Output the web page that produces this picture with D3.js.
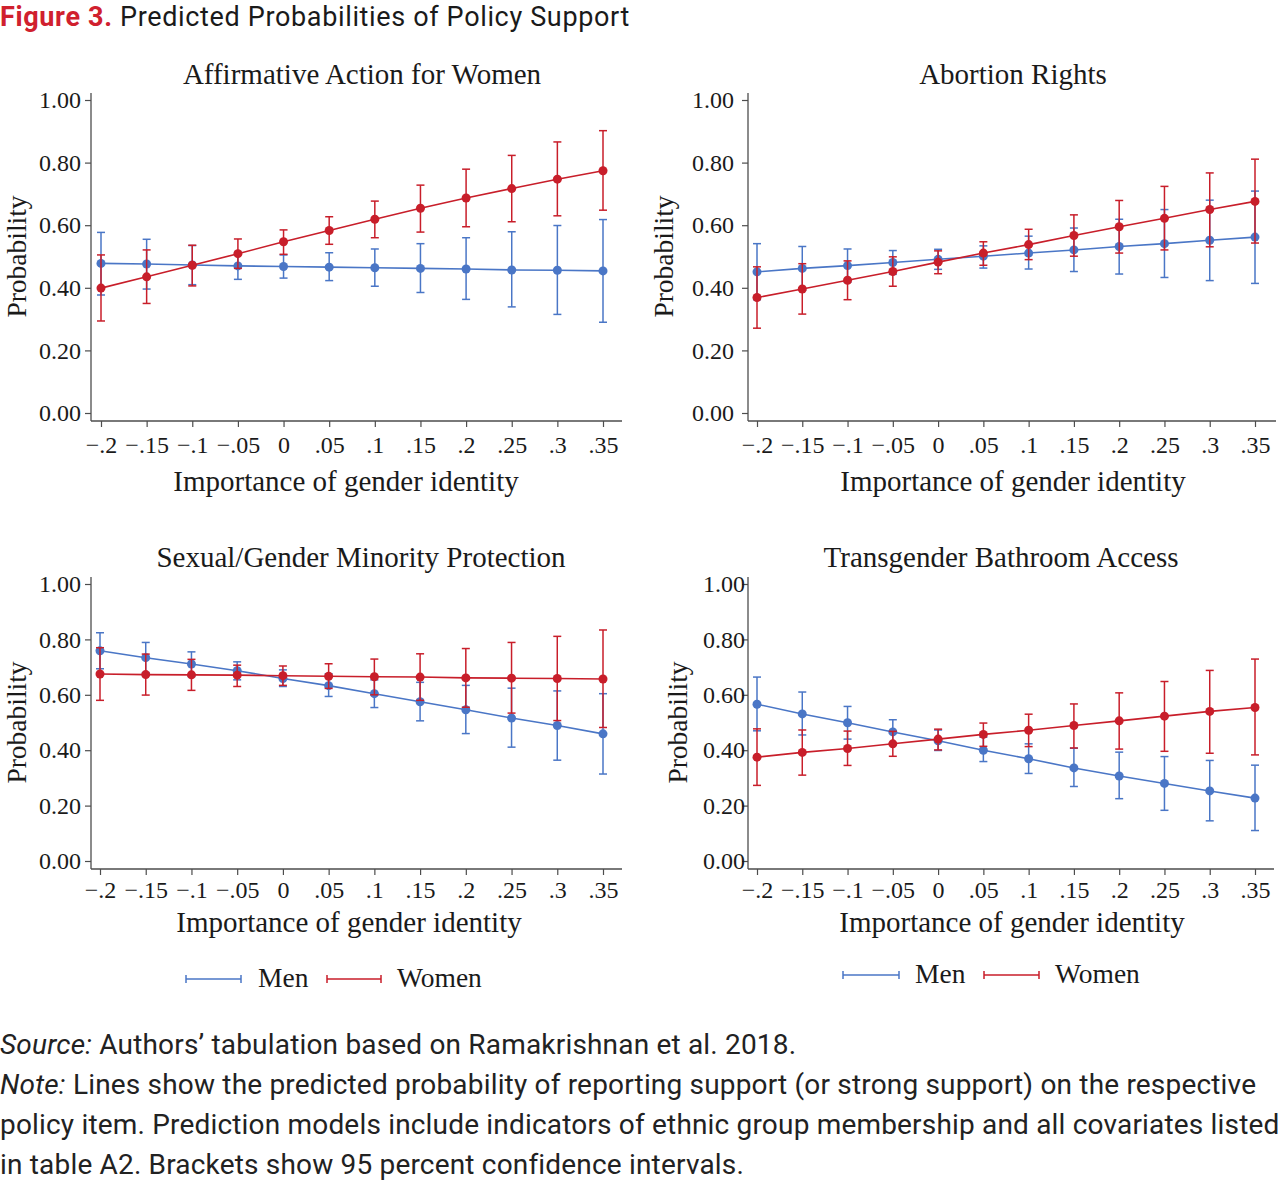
<!DOCTYPE html>
<html><head><meta charset="utf-8">
<script src="https://cdn.jsdelivr.net/npm/d3@7"></script>
<style>body{margin:0;background:#fff} svg{display:block}</style>
</head>
<body>
<svg id="chart" width="1280" height="1180"></svg>
<script>
// ---------- data ----------
const xValues = [-0.2, -0.15, -0.1, -0.05, 0, 0.05, 0.1, 0.15, 0.2, 0.25, 0.3, 0.35];
const xTickLabels = ["\u2212.2", "\u2212.15", "\u2212.1", "\u2212.05", "0", ".05", ".1", ".15", ".2", ".25", ".3", ".35"];
const yTickValues = [0, 0.2, 0.4, 0.6, 0.8, 1.0];
const yTickLabels = ["0.00", "0.20", "0.40", "0.60", "0.80", "1.00"];
const panelTitles = ["Affirmative Action for Women", "Abortion Rights", "Sexual/Gender Minority Protection", "Transgender Bathroom Access"];
const seriesNames = ["Men", "Women"];

// Affirmative Action for Women
const aaMen      = [0.478, 0.476, 0.473, 0.470, 0.468, 0.466, 0.464, 0.462, 0.460, 0.457, 0.456, 0.454];
const aaMenLo    = [0.377, 0.396, 0.410, 0.427, 0.431, 0.423, 0.405, 0.385, 0.363, 0.339, 0.315, 0.290];
const aaMenHi    = [0.577, 0.555, 0.535, 0.513, 0.505, 0.512, 0.524, 0.541, 0.560, 0.579, 0.599, 0.618];
const aaWomen    = [0.399, 0.435, 0.472, 0.509, 0.547, 0.583, 0.619, 0.654, 0.687, 0.717, 0.747, 0.774];
const aaWomenLo  = [0.294, 0.350, 0.406, 0.462, 0.507, 0.539, 0.560, 0.578, 0.595, 0.611, 0.630, 0.648];
const aaWomenHi  = [0.505, 0.521, 0.536, 0.556, 0.585, 0.627, 0.677, 0.728, 0.779, 0.823, 0.866, 0.902];

// Abortion Rights
const arMen      = [0.451, 0.462, 0.471, 0.481, 0.491, 0.501, 0.511, 0.521, 0.532, 0.541, 0.552, 0.562];
const arMenLo    = [0.362, 0.392, 0.418, 0.443, 0.459, 0.463, 0.460, 0.452, 0.444, 0.433, 0.423, 0.414];
const arMenHi    = [0.541, 0.532, 0.524, 0.519, 0.523, 0.534, 0.565, 0.591, 0.619, 0.650, 0.680, 0.709];
const arWomen    = [0.369, 0.396, 0.424, 0.452, 0.482, 0.511, 0.538, 0.567, 0.595, 0.622, 0.650, 0.676];
const arWomenLo  = [0.271, 0.316, 0.362, 0.405, 0.445, 0.472, 0.490, 0.501, 0.511, 0.521, 0.531, 0.543];
const arWomenHi  = [0.467, 0.477, 0.486, 0.499, 0.518, 0.547, 0.587, 0.633, 0.679, 0.724, 0.767, 0.811];

// Sexual/Gender Minority Protection
const smMen      = [0.759, 0.734, 0.711, 0.687, 0.659, 0.633, 0.604, 0.575, 0.546, 0.516, 0.489, 0.459];
const smMenLo    = [0.694, 0.680, 0.666, 0.654, 0.630, 0.594, 0.554, 0.506, 0.460, 0.411, 0.364, 0.314];
const smMenHi    = [0.824, 0.789, 0.755, 0.719, 0.690, 0.676, 0.654, 0.645, 0.634, 0.624, 0.614, 0.604];
const smWomen    = [0.675, 0.673, 0.672, 0.671, 0.669, 0.667, 0.665, 0.664, 0.661, 0.660, 0.659, 0.657];
const smWomenLo  = [0.580, 0.599, 0.616, 0.630, 0.634, 0.623, 0.600, 0.580, 0.555, 0.534, 0.507, 0.482];
const smWomenHi  = [0.770, 0.747, 0.728, 0.707, 0.704, 0.712, 0.729, 0.748, 0.767, 0.789, 0.811, 0.834];

// Transgender Bathroom Access
const tbMen      = [0.566, 0.531, 0.499, 0.466, 0.434, 0.400, 0.369, 0.336, 0.307, 0.280, 0.253, 0.227];
const tbMenLo    = [0.470, 0.455, 0.440, 0.423, 0.399, 0.359, 0.316, 0.269, 0.225, 0.183, 0.145, 0.110];
const tbMenHi    = [0.664, 0.610, 0.558, 0.510, 0.473, 0.447, 0.423, 0.407, 0.393, 0.377, 0.363, 0.346];
const tbWomen    = [0.375, 0.392, 0.406, 0.423, 0.440, 0.457, 0.472, 0.489, 0.506, 0.523, 0.540, 0.554];
const tbWomenLo  = [0.273, 0.310, 0.345, 0.378, 0.401, 0.414, 0.413, 0.408, 0.404, 0.396, 0.389, 0.383];
const tbWomenHi  = [0.477, 0.473, 0.469, 0.468, 0.476, 0.498, 0.530, 0.567, 0.607, 0.648, 0.688, 0.729];

// ---------- build ----------
const panelSeries = [
  [[aaMen, aaMenLo, aaMenHi], [aaWomen, aaWomenLo, aaWomenHi]],
  [[arMen, arMenLo, arMenHi], [arWomen, arWomenLo, arWomenHi]],
  [[smMen, smMenLo, smMenHi], [smWomen, smWomenLo, smWomenHi]],
  [[tbMen, tbMenLo, tbMenHi], [tbWomen, tbWomenLo, tbWomenHi]]
];

const colors = ["#4a76c6", "#c81e2a"];
const serif = "'Liberation Serif', 'DejaVu Serif', serif";
const sans = "'Roboto', 'Liberation Sans', sans-serif";
const axisColor = "#4d4d4d";
const textColor = "#1a1a1a";

const layout = [
  {axX: 91,  xr: [101, 603], yr: [413, 100], axBottom: 421, axTop: 93,  axRight: 622, titleX: 362, titleY: 84,  xtX: 346, xtY: 491, ylX: 26,  tickLblX: -10, xlY: 15},
  {axX: 748, xr: [757, 1255], yr: [413, 100], axBottom: 421, axTop: 93,  axRight: 1276, titleX: 1013, titleY: 84, xtX: 1013, xtY: 491, ylX: 673, tickLblX: -14, xlY: 15},
  {axX: 91,  xr: [100, 603], yr: [861, 584], axBottom: 869, axTop: 577, axRight: 622, titleX: 361, titleY: 567, xtX: 349, xtY: 932, ylX: 26,  tickLblX: -10, xlY: 12},
  {axX: 748, xr: [757, 1255], yr: [861, 584], axBottom: 869, axTop: 577, axRight: 1274, titleX: 1001, titleY: 567, xtX: 1012, xtY: 932, ylX: 687, tickLblX: -3, xlY: 12}
];

const svg = d3.select("#chart");

// Figure title
const ft = svg.append("text").attr("x", 0).attr("y", 26)
  .attr("font-family", sans).attr("font-size", 27).attr("letter-spacing", 0.65).attr("fill", textColor);
ft.append("tspan").attr("fill", "#d0202e").attr("font-weight", "bold").text("Figure 3.");
ft.append("tspan").text(" Predicted Probabilities of Policy Support");

layout.forEach((L, i) => {
  const x = d3.scaleLinear().domain([-0.2, 0.35]).range(L.xr);
  const y = d3.scaleLinear().domain([0, 1]).range(L.yr);
  const g = svg.append("g");

  // axis lines
  g.append("line").attr("x1", L.axX).attr("x2", L.axX).attr("y1", L.axTop).attr("y2", L.axBottom)
    .attr("stroke", axisColor).attr("stroke-width", 1.3);
  g.append("line").attr("x1", L.axX).attr("x2", L.axRight).attr("y1", L.axBottom).attr("y2", L.axBottom)
    .attr("stroke", axisColor).attr("stroke-width", 1.3);

  // y axis
  const ya = g.append("g").attr("transform", `translate(${L.axX},0)`)
    .call(d3.axisLeft(y).tickValues(yTickValues).tickSize(6).tickSizeOuter(0)
      .tickFormat((d, k) => yTickLabels[k]));
  ya.select(".domain").remove();
  ya.selectAll(".tick line").attr("stroke", axisColor).attr("stroke-width", 1.2);
  ya.selectAll(".tick text").attr("x", L.tickLblX).attr("font-family", serif).attr("font-size", 24)
    .attr("fill", textColor);

  // x axis
  const xa = g.append("g").attr("transform", `translate(0,${L.axBottom})`)
    .call(d3.axisBottom(x).tickValues(xValues).tickSize(6).tickSizeOuter(0)
      .tickFormat((d, k) => xTickLabels[k]));
  xa.select(".domain").remove();
  xa.selectAll(".tick line").attr("stroke", axisColor).attr("stroke-width", 1.2);
  xa.selectAll(".tick text").attr("y", L.xlY).attr("font-family", serif).attr("font-size", 24)
    .attr("fill", textColor);

  // titles
  g.append("text").attr("x", L.titleX).attr("y", L.titleY).attr("text-anchor", "middle")
    .attr("font-family", serif).attr("font-size", 29).attr("fill", textColor).text(panelTitles[i]);
  g.append("text").attr("x", L.xtX).attr("y", L.xtY).attr("text-anchor", "middle")
    .attr("font-family", serif).attr("font-size", 29).attr("fill", textColor).text("Importance of gender identity");
  const ymid = (L.yr[0] + L.yr[1]) / 2;
  g.append("text").attr("transform", `translate(${L.ylX},${ymid}) rotate(-90)`).attr("text-anchor", "middle")
    .attr("font-family", serif).attr("font-size", 27.5).attr("fill", textColor).text("Probability");

  // series
  panelSeries[i].forEach((s, si) => {
    const [p, lo, hi] = s;
    const col = colors[si];
    const data = xValues.map((xv, k) => ({x: xv, p: p[k], lo: lo[k], hi: hi[k]}));
    const eb = g.append("g").attr("stroke", col).attr("stroke-width", 1.5).attr("fill", "none");
    eb.selectAll("line.v").data(data).join("line")
      .attr("x1", d => x(d.x)).attr("x2", d => x(d.x)).attr("y1", d => y(d.lo)).attr("y2", d => y(d.hi));
    eb.selectAll("line.t").data(data).join("line").attr("class", "t")
      .attr("x1", d => x(d.x) - 4).attr("x2", d => x(d.x) + 4).attr("y1", d => y(d.hi)).attr("y2", d => y(d.hi));
    eb.selectAll("line.b").data(data).join("line").attr("class", "b")
      .attr("x1", d => x(d.x) - 4).attr("x2", d => x(d.x) + 4).attr("y1", d => y(d.lo)).attr("y2", d => y(d.lo));
    g.append("path").datum(data)
      .attr("d", d3.line().x(d => x(d.x)).y(d => y(d.p)))
      .attr("stroke", col).attr("stroke-width", 1.6).attr("fill", "none");
    g.append("g").selectAll("circle").data(data).join("circle")
      .attr("cx", d => x(d.x)).attr("cy", d => y(d.p)).attr("r", 4.5).attr("fill", col);
  });
});

// legends
const legends = [
  {y: 979, items: [{x1: 186, x2: 241, tx: 258}, {x1: 327, x2: 381, tx: 397}]},
  {y: 975, items: [{x1: 843, x2: 899, tx: 915}, {x1: 984, x2: 1039, tx: 1055}]}
];
legends.forEach(Lg => {
  Lg.items.forEach((it, k) => {
    const col = colors[k];
    const g = svg.append("g").attr("stroke", col).attr("stroke-width", 1.5);
    g.append("line").attr("x1", it.x1).attr("x2", it.x2).attr("y1", Lg.y).attr("y2", Lg.y);
    g.append("line").attr("x1", it.x1).attr("x2", it.x1).attr("y1", Lg.y - 4).attr("y2", Lg.y + 4);
    g.append("line").attr("x1", it.x2).attr("x2", it.x2).attr("y1", Lg.y - 4).attr("y2", Lg.y + 4);
    svg.append("text").attr("x", it.tx).attr("y", Lg.y + 8).attr("font-family", serif)
      .attr("font-size", 27.5).attr("fill", textColor).text(seriesNames[k]);
  });
});

// footnotes
const notes = [
  [["Source:", true], [" Authors\u2019 tabulation based on Ramakrishnan et al. 2018.", false]],
  [["Note:", true], [" Lines show the predicted probability of reporting support (or strong support) on the respective", false]],
  [["policy item. Prediction models include indicators of ethnic group membership and all covariates listed", false]],
  [["in table A2. Brackets show 95 percent confidence intervals.", false]]
];
notes.forEach((ln, k) => {
  const t = svg.append("text").attr("x", 0).attr("y", 1054 + k * 40)
    .attr("font-family", sans).attr("font-size", 28).attr("letter-spacing", 0.18).attr("fill", "#222");
  ln.forEach(([s, it]) => t.append("tspan").attr("font-style", it ? "italic" : "normal").text(s));
});
</script>
</body></html>
